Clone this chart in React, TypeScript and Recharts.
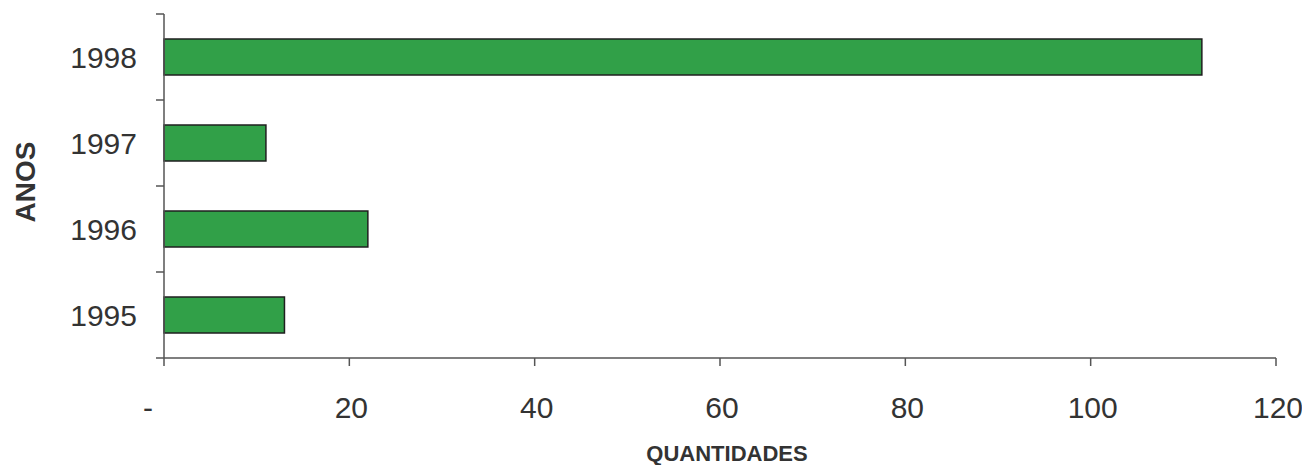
import React from 'react';
import { BarChart, Bar, XAxis, YAxis, Label } from 'recharts';

const years = ['1998', '1997', '1996', '1995'];
const quantities = [112, 11, 22, 13];
const xTicks = [0, 20, 40, 60, 80, 100, 120];

const data = years.map((y, i) => ({ year: y, qtd: quantities[i] }));

const FONT = '"Liberation Sans", Arial, sans-serif';
const AXIS = '#555555';
const TEXT = '#333333';
const TICK_SIZE = 8;
const Y_TICK_MARGIN = 19;

const XTick = (props: any) => {
  const { x, y, payload } = props;
  const v = payload.value;
  // Excel accounting format draws the zero as a dash shifted to the left
  const label = v === 0 ? '-' : String(v);
  const shift = v === 0 ? -16 : 2;
  return (
    <text x={x + shift} y={y} dy="0.71em" textAnchor="middle" fill={TEXT} fontSize={30} fontFamily={FONT}>
      {label}
    </text>
  );
};

// category label plus tick marks on the band edges (Excel style)
const YTick = (props: any) => {
  const { x, y, payload, index, visibleTicksCount } = props;
  const half = payload.offset || 0;
  const axisX = x + TICK_SIZE + Y_TICK_MARGIN;
  const top = payload.coordinate - half;
  const bottom = payload.coordinate + half;
  const isLast = visibleTicksCount ? index === visibleTicksCount - 1 : payload.value === years[years.length - 1];
  return (
    <g>
      <line x1={axisX - TICK_SIZE} x2={axisX} y1={top} y2={top} stroke={AXIS} strokeWidth={1.5} />
      {isLast && <line x1={axisX - TICK_SIZE} x2={axisX} y1={bottom} y2={bottom} stroke={AXIS} strokeWidth={1.5} />}
      <text x={x} y={y} dy="0.355em" textAnchor="end" fill={TEXT} fontSize={30} fontFamily={FONT}>
        {payload.value}
      </text>
    </g>
  );
};

const App: React.FC = () => {
  return (
    <div style={{ width: 1300, height: 457, background: '#ffffff', fontFamily: FONT }}>
      <BarChart
        width={1300}
        height={457}
        data={data}
        layout="vertical"
        margin={{ top: 6, right: 32, left: 0, bottom: 0 }}
      >
        <XAxis
          type="number"
          dataKey="qtd"
          domain={[0, 120]}
          ticks={xTicks}
          interval={0}
          height={107}
          tickSize={TICK_SIZE}
          tickMargin={31}
          axisLine={{ stroke: AXIS, strokeWidth: 1.5 }}
          tickLine={{ stroke: AXIS, strokeWidth: 1.5 }}
          tick={<XTick />}
        >
          <Label
            value="QUANTIDADES"
            position="insideBottom"
            offset={4}
            dx={7}
            fill={TEXT}
            fontSize={22}
            fontWeight="bold"
            fontFamily={FONT}
          />
        </XAxis>
        <YAxis
          type="category"
          dataKey="year"
          width={156}
          interval={0}
          axisLine={{ stroke: AXIS, strokeWidth: 1.5 }}
          tickLine={false}
          tickSize={TICK_SIZE}
          tickMargin={Y_TICK_MARGIN}
          tick={<YTick />}
        >
          <Label
            value="ANOS"
            position="insideLeft"
            offset={17}
            angle={-90}
            textAnchor="middle"
            dy={-4}
            fill={TEXT}
            fontSize={28}
            fontWeight="bold"
            fontFamily={FONT}
          />
        </YAxis>
        <Bar
          dataKey="qtd"
          fill="#31a048"
          stroke="#1f1f1f"
          strokeWidth={1.5}
          barSize={36}
          isAnimationActive={false}
        />
      </BarChart>
    </div>
  );
};

export default App;
